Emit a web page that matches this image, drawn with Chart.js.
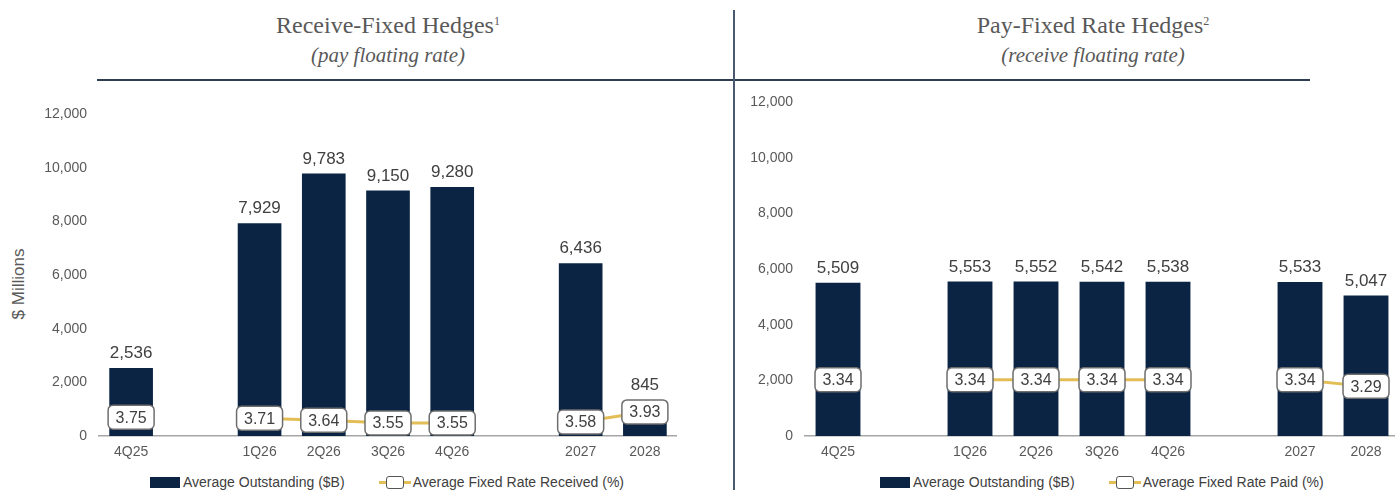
<!DOCTYPE html>
<html>
<head>
<meta charset="utf-8">
<script src="https://cdn.jsdelivr.net/npm/chart.js@4.4.1/dist/chart.umd.min.js"></script>
<style>
  html, body { margin: 0; padding: 0; background: #fff; }
  body { width: 1395px; height: 490px; position: relative; overflow: hidden; font-family: "Liberation Sans", Arial, sans-serif; }
  .title { position: absolute; text-align: center; font-family: "Liberation Serif", Georgia, serif; color: #595959; white-space: nowrap; }
  .title .main { font-size: 24px; line-height: 26px; }
  .title .main sup { font-size: 12px; vertical-align: 8px; }
  .title .sub { font-size: 21px; line-height: 26px; font-style: italic; margin-top: 4px; }
  .rule { position: absolute; top: 79px; height: 2px; background: #2e3d50; }
  .divider { position: absolute; left: 733px; top: 10px; width: 2px; height: 480px; background: #4a5a6e; }
  canvas { position: absolute; top: 0; }
  .legend { position: absolute; top: 474px; font-size: 14px; color: #404040; white-space: nowrap; display: flex; align-items: center; }
  .legend .swatch { display: inline-block; width: 30px; height: 11px; background: #0b2444; margin-right: 3px; }
  .legend .linekey { display: inline-block; position: relative; width: 32px; height: 14px; margin-right: 2px; }
  .legend .linekey::before { content: ""; position: absolute; left: 0; right: 0; top: 6px; height: 3px; background: #e3bd55; }
  .legend .linekey::after { content: ""; position: absolute; left: 7px; top: 1px; width: 16px; height: 11px; background: #fff; border: 1.5px solid #555; border-radius: 3px; }
  .ylabel { position: absolute; left: 19px; top: 284px; transform: translate(-50%, -50%) rotate(-90deg); font-size: 17px; color: #595959; white-space: nowrap; }
</style>
</head>
<body>

<div class="title" style="left:238px; width:300px; top:8px;">
  <div class="main">Receive-Fixed Hedges<sup>1</sup></div>
  <div class="sub">(pay floating rate)</div>
</div>
<div class="title" style="left:943px; width:300px; top:8px;">
  <div class="main">Pay-Fixed Rate Hedges<sup>2</sup></div>
  <div class="sub">(receive floating rate)</div>
</div>
<div class="rule" style="left:97px; width:1213px;"></div>
<div class="divider"></div>
<div class="ylabel">$ Millions</div>

<canvas id="receiveChart" width="677" height="470" style="left:0;"></canvas>
<canvas id="payChart" width="659" height="470" style="left:740px;"></canvas>

<div class="legend" style="left:150px;">
  <span class="swatch"></span>Average Outstanding ($B)
  <span class="linekey" style="margin-left:34px;"></span>Average Fixed Rate Received (%)
</div>
<div class="legend" style="left:880px;">
  <span class="swatch"></span>Average Outstanding ($B)
  <span class="linekey" style="margin-left:34px;"></span>Average Fixed Rate Paid (%)
</div>

<script>
// quarters / years, with empty slots separating the groups
const categories = ['4Q25', '', '1Q26', '2Q26', '3Q26', '4Q26', '', '2027', '2028'];

const receiveOutstanding = [2536, null, 7929, 9783, 9150, 9280, null, 6436, 845];
const receiveRate = [3.75, null, 3.71, 3.64, 3.55, 3.55, null, 3.58, 3.93];

const payOutstanding = [5509, null, 5553, 5552, 5542, 5538, null, 5533, 5047];
const payRate = [3.34, null, 3.34, 3.34, 3.34, 3.34, null, 3.34, 3.29];

const NAVY = '#0b2444';
const GOLD = '#e3bd55';
const TICK_COLOR = '#595959';
const BOX_W = 46;
const BOX_H = 24;

// bar totals above the bars, rate values in rounded boxes on the line
const valueLabels = {
    id: 'valueLabels',
    afterDatasetsDraw(chart) {
        const ctx = chart.ctx;
        const barData = chart.data.datasets[0].data;
        const rateData = chart.data.datasets[1].data;
        const ratePts = chart.getDatasetMeta(1).data;
        ctx.save();
        ctx.textAlign = 'center';

        ctx.font = '17px "Liberation Sans", Arial, sans-serif';
        ctx.fillStyle = '#404040';
        ctx.textBaseline = 'bottom';
        chart.getDatasetMeta(0).data.forEach((bar, i) => {
            if (barData[i] == null) return;
            let y = bar.y - 6;
            // short bars: lift the total above the rate box
            if (rateData[i] != null) {
                y = Math.min(y, ratePts[i].y - BOX_H / 2 - 6);
            }
            ctx.fillText(barData[i].toLocaleString('en-US'), bar.x, y);
        });

        ctx.font = '16px "Liberation Sans", Arial, sans-serif';
        ctx.textBaseline = 'middle';
        ratePts.forEach((pt, i) => {
            if (rateData[i] == null) return;
            ctx.beginPath();
            ctx.roundRect(pt.x - BOX_W / 2, pt.y - BOX_H / 2, BOX_W, BOX_H, 5);
            ctx.fillStyle = '#ffffff';
            ctx.fill();
            ctx.lineWidth = 1.5;
            ctx.strokeStyle = '#6e6e6e';
            ctx.stroke();
            ctx.fillStyle = '#404040';
            ctx.fillText(rateData[i].toFixed(2), pt.x, pt.y + 1);
        });
        ctx.restore();
    },
};

function buildChart(id, bars, rates, opts) {
    return new Chart(document.getElementById(id), {
        type: 'bar',
        data: {
            labels: categories,
            datasets: [
                {
                    type: 'bar',
                    data: bars,
                    backgroundColor: NAVY,
                    categoryPercentage: 1,
                    barPercentage: 0.68,
                    yAxisID: 'y',
                    order: 2,
                },
                {
                    type: 'line',
                    data: rates,
                    borderColor: GOLD,
                    borderWidth: 3,
                    pointRadius: 0,
                    spanGaps: false,
                    yAxisID: 'y2',
                    order: 1,
                },
            ],
        },
        options: {
            responsive: false,
            animation: false,
            events: [],
            layout: { padding: { top: opts.top, left: 0, right: 0, bottom: 0 } },
            plugins: { legend: { display: false }, tooltip: { enabled: false } },
            scales: {
                x: {
                    grid: { display: false, drawTicks: false },
                    border: { color: '#a6a6a6', width: 1.5 },
                    ticks: { color: TICK_COLOR, font: { size: 14, family: '"Liberation Sans", Arial' }, padding: 8 },
                    afterFit: (scale) => { scale.height = 34; },
                },
                y: {
                    min: 0,
                    max: 12000,
                    grid: { display: false, drawTicks: false },
                    border: { display: false },
                    ticks: {
                        stepSize: 2000,
                        color: TICK_COLOR,
                        font: { size: 14, family: '"Liberation Sans", Arial' },
                        padding: 12,
                        callback: (v) => v.toLocaleString('en-US'),
                    },
                    afterFit: (scale) => { scale.width = opts.axisWidth; },
                },
                y2: {
                    display: false,
                    min: opts.rateMin,
                    max: opts.rateMax,
                },
            },
        },
        plugins: [valueLabels],
    });
}

buildChart('receiveChart', receiveOutstanding, receiveRate, { top: 114, axisWidth: 99, rateMin: 3.1, rateMax: 14.2 });
buildChart('payChart', payOutstanding, payRate, { top: 102, axisWidth: 65, rateMin: 2.92, rateMax: 5.41 });
</script>
</body>
</html>
